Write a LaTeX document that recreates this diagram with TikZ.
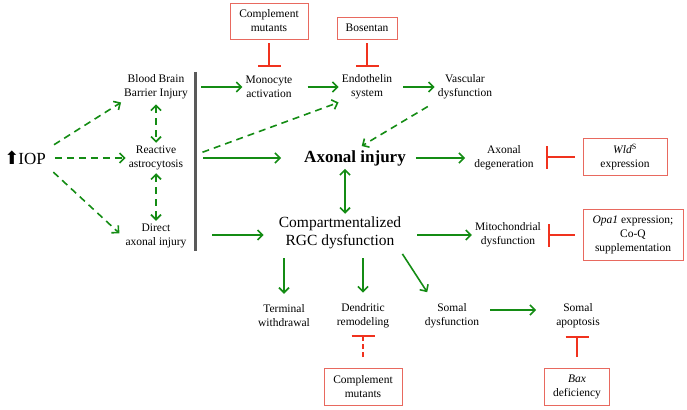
\documentclass[tikz,border=0pt]{standalone}
\usepackage{fontspec}
\setmainfont{Liberation Serif}
\newfontfamily\symfont{DejaVu Sans}
\usetikzlibrary{arrows.meta}
\definecolor{flowgreen}{RGB}{20,140,20}
\definecolor{inhred}{RGB}{240,50,30}
\definecolor{boxred}{RGB}{232,105,95}
\definecolor{bargray}{RGB}{90,90,90}

\begin{document}
\begin{tikzpicture}[x=1pt,y=-1pt,>={Straight Barb[length=5pt,width=10pt]},
  lbl/.style={align=center, inner sep=3pt, font=\fontsize{11.5}{14}\selectfont},
  box/.style={draw=boxred, line width=0.9pt, align=center, inner sep=2pt, font=\fontsize{11.5}{14}\selectfont},
  flow/.style={->, draw=flowgreen, line width=1.6pt},
  dflow/.style={flow, dash pattern=on 7pt off 5pt},
  inhib/.style={-{Bar[width=23pt]}, draw=inhred, line width=2pt},
  dinhib/.style={inhib, dash pattern=on 5pt off 3pt}]

  \useasboundingbox (0,0) rectangle (687,409);

  % left column
  \node[inner sep=3pt, font=\fontsize{17}{20}\selectfont] (iop) at (25,158) {{\symfont\fontsize{18}{18}\selectfont ⬆}\kern-1ptIOP};
  \node[lbl] (bbb) at (156,87) {Blood Brain\\Barrier Injury};
  \node[lbl] (rea) at (156,158) {Reactive\\astrocytosis};
  \node[lbl] (dai) at (156,236) {Direct\\axonal injury};

  \coordinate (bartop) at (195,72);
  \coordinate (barbot) at (195,251);
  \draw[bargray, line width=3pt] (bartop) -- (barbot);

  % top row
  \node[lbl] (mono) at (269,87) {Monocyte\\activation};
  \node[lbl] (endo) at (367,87) {Endothelin\\system};
  \node[lbl] (vasc) at (465,87) {Vascular\\dysfunction};
  \node[box, minimum width=78pt, minimum height=36pt] (cm1) at (269,21) {Complement\\mutants};
  \node[box, minimum width=60pt, minimum height=22pt] (bos) at (367,28) {Bosentan};

  % middle
  \node[inner sep=3pt, font=\fontsize{17}{20}\selectfont\bfseries] (axi) at (355,158) {Axonal injury};
  \node[lbl] (adeg) at (504,158) {Axonal\\degeneration};
  \node[box, minimum width=84pt, minimum height=37pt] (wld) at (625,157) {\textit{Wld}\textsuperscript{S}\\expression};
  \node[align=center, inner sep=3pt, font=\fontsize{15.5}{18}\selectfont] (rgc) at (340,233) {Compartmentalized\\RGC dysfunction};
  \node[lbl] (mito) at (508,235) {Mitochondrial\\dysfunction};
  \node[box, minimum width=100pt, minimum height=51pt] (opa) at (633,235) {\textit{Opa1} expression;\\Co-Q\\supplementation};

  % bottom row
  \node[lbl] (term) at (284,316) {Terminal\\withdrawal};
  \node[lbl] (dend) at (363,316) {Dendritic\\remodeling};
  \node[lbl] (somd) at (452,316) {Somal\\dysfunction};
  \node[lbl] (soma) at (578,316) {Somal\\apoptosis};
  \node[box, minimum width=78pt, minimum height=37pt] (cm2) at (363,387) {Complement\\mutants};
  \node[box, minimum width=65pt, minimum height=37pt] (bax) at (577,387) {\textit{Bax}\\deficiency};

  % IOP branches
  \draw[dflow, shorten <=6pt] (iop.north east) -- (bbb.south west);
  \draw[dflow, shorten <=6pt] (iop.east) -- (rea.west);
  \draw[dflow, shorten <=6pt, shorten >=4pt] (iop.south east) -- (dai.west);
  \draw[dflow, <->, shorten <=2pt] (bbb.south) -- (rea.north);
  \draw[dflow, <->] (rea.south) -- (dai.north);

  % from the bar
  \draw[flow, shorten <=6pt] (bartop |- mono) -- (mono.west);
  \draw[flow, shorten <=12pt] (mono.east) -- (endo.west);
  \draw[flow, shorten <=8pt] (endo.east) -- (vasc.west);
  \draw[dflow, shorten <=8pt] ([yshift=3pt]bartop |- rea) -- (endo.south west);
  \draw[dflow, shorten <=8pt, shorten >=2pt] (vasc.south west) -- ([xshift=5pt]axi.north);
  \draw[flow, shorten <=8pt, shorten >=20pt] (bartop |- axi) -- (axi.west);
  \draw[flow, shorten <=17pt, shorten >=12pt] ([yshift=-2pt]barbot |- rgc) -- ([yshift=-2pt]rgc.west);

  % out of axonal injury and RGC dysfunction
  \draw[flow, <->] ([xshift=5pt]axi.south -| rgc.north) -- ([xshift=5pt]rgc.north);
  \draw[flow, shorten <=7pt, shorten >=6pt] (axi.east) -- (adeg.west);
  \draw[flow, shorten <=13pt] ([yshift=-2pt]rgc.east) -- ([yshift=-2pt]rgc.east -| mito.west);
  \draw[flow, shorten <=6pt, shorten >=8pt] (rgc.south -| term) -- (term.north);
  \draw[flow, shorten <=6pt, shorten >=8pt] (rgc.south -| dend) -- (dend.north);
  \draw[flow, shorten <=2pt, shorten >=10pt] ([xshift=-3pt]rgc.south east) -- ([xshift=11pt]somd.north west);
  \draw[flow, shorten <=8pt, shorten >=17pt] ([yshift=6pt]somd.east) -- ([yshift=6pt]soma.west);

  % inhibitors
  \draw[inhib, shorten <=4pt, shorten >=6pt] (cm1.south) -- (cm1.south |- mono.north);
  \draw[inhib, shorten <=4pt, shorten >=5pt] (bos.south) -- (bos.south |- endo.north);
  \draw[inhib, shorten <=8pt, shorten >=9pt] (wld.west) -- (wld.west -| adeg.east);
  \draw[inhib, shorten <=8pt, shorten >=4pt] (opa.west) -- (opa.west -| mito.east);
  \draw[dinhib, shorten <=11pt, shorten >=4pt] (cm2.north) -- (cm2.north |- dend.south);
  \draw[inhib, shorten <=11pt, shorten >=5pt] (bax.north) -- (bax.north |- soma.south);
\end{tikzpicture}
\end{document}
